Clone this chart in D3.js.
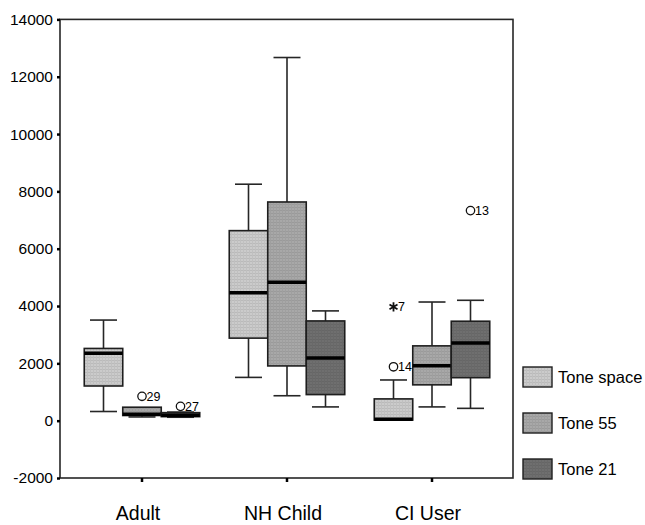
<!DOCTYPE html>
<html>
<head>
<meta charset="utf-8">
<script src="https://cdn.jsdelivr.net/npm/d3@7"></script>
<style>
  body { margin: 0; background: #fff; }
  svg { display: block; font-family: 'Liberation Sans', Arial, sans-serif; }
</style>
</head>
<body>
<div id="chart"></div>
<script>
const groups = ['Adult', 'NH Child', 'CI User'];
const series = ['Tone space', 'Tone 55', 'Tone 21'];
const yTicks = [-2000, 0, 2000, 4000, 6000, 8000, 10000, 12000, 14000];

// box stats per series, one value per group (Adult, NH Child, CI User)
const toneSpaceLow = [320, 1510, 20];
const toneSpaceQ1 = [1210, 2880, 20];
const toneSpaceMedian = [2350, 4460, 50];
const toneSpaceQ3 = [2520, 6630, 760];
const toneSpaceHigh = [3510, 8250, 1420];

const tone55Low = [130, 870, 480];
const tone55Q1 = [180, 1910, 1250];
const tone55Median = [220, 4830, 1920];
const tone55Q3 = [470, 7630, 2610];
const tone55High = [470, 12670, 4140];

const tone21Low = [120, 480, 430];
const tone21Q1 = [140, 910, 1500];
const tone21Median = [190, 2190, 2710];
const tone21Q3 = [280, 3480, 3470];
const tone21High = [300, 3830, 4200];

// outliers / extremes
const outlierGroup = ['Adult', 'Adult', 'CI User', 'CI User', 'CI User'];
const outlierSeries = ['Tone 55', 'Tone 21', 'Tone space', 'Tone space', 'Tone 21'];
const outlierValue = [850, 500, 1880, 3970, 7330];
const outlierLabel = ['29', '27', '14', '7', '13'];
const outlierKind = ['circle', 'circle', 'circle', 'extreme', 'circle'];

const fills = ['#cbcbcb', '#a8a8a8', '#6f6f6f'];

class BoxPlot {
  constructor(_config) {
    this.config = {
      parentElement: _config.parentElement,
      containerWidth: 645,
      containerHeight: 525,
      plotLeft: 60,
      plotRight: 513,
      plotTop: 19.4,
      plotBottom: 478,
      boxWidth: 38.5,
      capWidth: 27,
    };
    this.initVis();
  }

  initVis() {
    const vis = this;
    const c = vis.config;

    vis.svg = d3.select(c.parentElement).append('svg')
      .attr('width', c.containerWidth)
      .attr('height', c.containerHeight);

    // subtle cross-hatch texture like the original print
    const defs = vis.svg.append('defs');
    series.forEach((s, i) => {
      const p = defs.append('pattern')
        .attr('id', `fill${i}`)
        .attr('width', 3)
        .attr('height', 3)
        .attr('patternUnits', 'userSpaceOnUse');
      p.append('rect').attr('width', 3).attr('height', 3).attr('fill', fills[i]);
      p.append('rect').attr('width', 3).attr('height', 1)
        .attr('fill', d3.color(fills[i]).darker(0.25));
      p.append('rect').attr('width', 1).attr('height', 3)
        .attr('fill', d3.color(fills[i]).darker(0.15));
    });

    vis.yScale = d3.scaleLinear()
      .domain([-2000, 14000])
      .range([c.plotBottom, c.plotTop]);

    vis.xScale = d3.scaleBand()
      .domain(groups)
      .range([69.5, 504.5]);

    vis.subScale = d3.scaleBand()
      .domain(series)
      .range([-c.boxWidth * 1.5, c.boxWidth * 1.5]);

    vis.stats = [
      [toneSpaceLow, toneSpaceQ1, toneSpaceMedian, toneSpaceQ3, toneSpaceHigh],
      [tone55Low, tone55Q1, tone55Median, tone55Q3, tone55High],
      [tone21Low, tone21Q1, tone21Median, tone21Q3, tone21High],
    ];

    vis.renderVis();
  }

  renderVis() {
    const vis = this;
    const c = vis.config;
    const ink = '#262626';

    // frame
    vis.svg.append('rect')
      .attr('x', c.plotLeft)
      .attr('y', c.plotTop)
      .attr('width', c.plotRight - c.plotLeft)
      .attr('height', c.plotBottom - c.plotTop)
      .attr('fill', 'none')
      .attr('stroke', ink)
      .attr('stroke-width', 1.6);

    // y axis
    const yAxis = d3.axisLeft(vis.yScale)
      .tickValues(yTicks)
      .tickSize(3)
      .tickPadding(4)
      .tickFormat((d) => String(d));
    const yAxisG = vis.svg.append('g')
      .attr('transform', `translate(${c.plotLeft},0)`)
      .call(yAxis);
    yAxisG.select('.domain').remove();
    yAxisG.selectAll('line').attr('stroke', '#000').attr('stroke-width', 2.5);
    yAxisG.selectAll('text')
      .attr('font-size', 15.5)
      .attr('font-family', "'Liberation Sans', Arial, sans-serif")
      .attr('fill', '#000');

    // x axis
    const xAxis = d3.axisBottom(vis.xScale).tickSize(4).tickPadding(24);
    const xAxisG = vis.svg.append('g')
      .attr('transform', `translate(0,${c.plotBottom})`)
      .call(xAxis);
    xAxisG.select('.domain').remove();
    xAxisG.selectAll('line').attr('stroke', '#000').attr('stroke-width', 2.5);
    xAxisG.selectAll('text')
      .attr('font-size', 19.5)
      .attr('font-family', "'Liberation Sans', Arial, sans-serif")
      .attr('fill', '#000')
      .attr('dx', -4);

    // boxes
    const rows = [];
    series.forEach((s, si) => {
      groups.forEach((g, gi) => {
        const st = vis.stats[si];
        rows.push({
          group: g, series: s, si,
          low: st[0][gi], q1: st[1][gi], median: st[2][gi], q3: st[3][gi], high: st[4][gi],
        });
      });
    });

    const cx = (d) => vis.xScale(d.group) + vis.xScale.bandwidth() / 2
      + vis.subScale(d.series) + vis.subScale.bandwidth() / 2;

    const boxG = vis.svg.append('g').selectAll('g')
      .data(rows)
      .join('g');

    // whiskers
    boxG.append('line')
      .attr('x1', cx).attr('x2', cx)
      .attr('y1', (d) => vis.yScale(d.high))
      .attr('y2', (d) => vis.yScale(d.q3))
      .attr('stroke', ink).attr('stroke-width', 1.6);
    boxG.append('line')
      .attr('x1', cx).attr('x2', cx)
      .attr('y1', (d) => vis.yScale(d.q1))
      .attr('y2', (d) => vis.yScale(d.low))
      .attr('stroke', ink).attr('stroke-width', 1.6);
    boxG.filter((d) => d.high > d.q3).append('line')
      .attr('x1', (d) => cx(d) - c.capWidth / 2)
      .attr('x2', (d) => cx(d) + c.capWidth / 2)
      .attr('y1', (d) => vis.yScale(d.high))
      .attr('y2', (d) => vis.yScale(d.high))
      .attr('stroke', ink).attr('stroke-width', 1.6);
    boxG.filter((d) => d.low < d.q1).append('line')
      .attr('x1', (d) => cx(d) - c.capWidth / 2)
      .attr('x2', (d) => cx(d) + c.capWidth / 2)
      .attr('y1', (d) => vis.yScale(d.low))
      .attr('y2', (d) => vis.yScale(d.low))
      .attr('stroke', ink).attr('stroke-width', 1.6);

    boxG.append('rect')
      .attr('x', (d) => cx(d) - c.boxWidth / 2)
      .attr('width', c.boxWidth)
      .attr('y', (d) => vis.yScale(d.q3))
      .attr('height', (d) => vis.yScale(d.q1) - vis.yScale(d.q3))
      .attr('fill', (d) => `url(#fill${d.si})`)
      .attr('stroke', '#1e1e1e')
      .attr('stroke-width', 1.6);

    boxG.append('line')
      .attr('x1', (d) => cx(d) - c.boxWidth / 2)
      .attr('x2', (d) => cx(d) + c.boxWidth / 2)
      .attr('y1', (d) => vis.yScale(d.median))
      .attr('y2', (d) => vis.yScale(d.median))
      .attr('stroke', '#000')
      .attr('stroke-width', 3.5);

    // outliers
    const outliers = outlierValue.map((v, i) => ({
      group: outlierGroup[i], series: outlierSeries[i], value: v,
      label: outlierLabel[i], kind: outlierKind[i],
    }));
    const outG = vis.svg.append('g').selectAll('g')
      .data(outliers)
      .join('g')
      .attr('transform', (d) => `translate(${cx(d)},${vis.yScale(d.value)})`);

    outG.filter((d) => d.kind === 'circle').append('circle')
      .attr('r', 4.2)
      .attr('fill', 'none')
      .attr('stroke', '#111')
      .attr('stroke-width', 1.3);
    outG.filter((d) => d.kind === 'extreme').append('path')
      .attr('d', d3.symbol().type(d3.symbolAsterisk || d3.symbolCross).size(60))
      .attr('fill', 'none')
      .attr('stroke', '#111')
      .attr('stroke-width', 1.8);

    outG.append('text')
      .attr('x', 4.5)
      .attr('y', 4.5)
      .attr('font-size', 12.5)
      .attr('fill', '#000')
      .text((d) => d.label);

    // legend
    const legend = vis.svg.append('g').selectAll('g')
      .data(series)
      .join('g')
      .attr('transform', (d, i) => `translate(523,${367 + i * 46})`);
    legend.append('rect')
      .attr('width', 29)
      .attr('height', 20)
      .attr('fill', (d, i) => `url(#fill${i})`)
      .attr('stroke', '#1e1e1e')
      .attr('stroke-width', 1.4);
    legend.append('text')
      .attr('x', 35)
      .attr('y', 16)
      .attr('font-size', 16.5)
      .attr('fill', '#000')
      .text((d) => d);
  }
}

new BoxPlot({ parentElement: '#chart' });
</script>
</body>
</html>
